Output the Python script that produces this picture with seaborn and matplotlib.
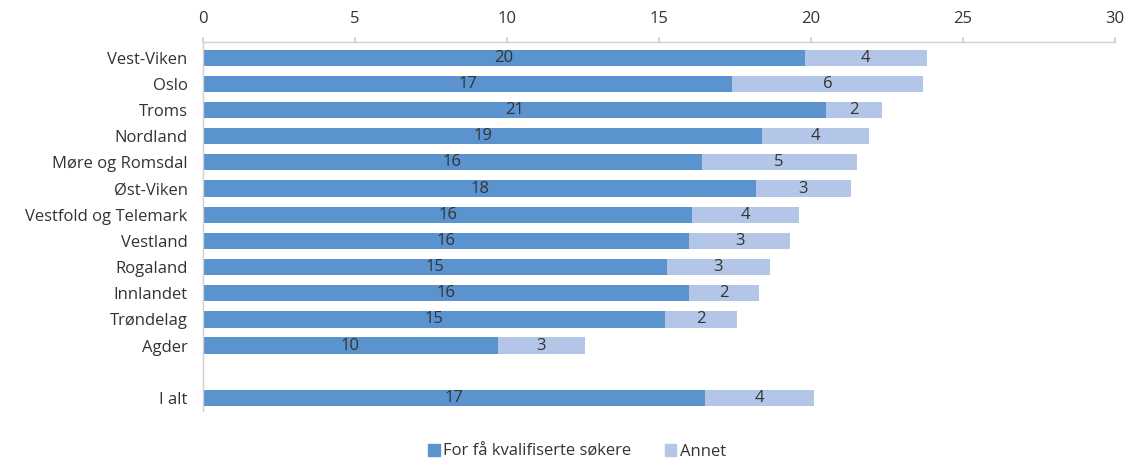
import matplotlib
matplotlib.use("Agg")
import matplotlib.pyplot as plt
import seaborn as sns
import pandas as pd
from matplotlib.patches import Patch

# Data
regions = ["Vest-Viken", "Oslo", "Troms", "Nordland", "Møre og Romsdal", "Øst-Viken",
           "Vestfold og Telemark", "Vestland", "Rogaland", "Innlandet", "Trøndelag",
           "Agder", "I alt"]
qualified = [19.8, 17.4, 20.5, 18.4, 16.4, 18.2, 16.1, 16.0, 15.25, 16.0, 15.2, 9.7, 16.5]
other = [4.0, 6.3, 1.85, 3.5, 5.1, 3.1, 3.5, 3.3, 3.4, 2.3, 2.35, 2.85, 3.6]
qualified_labels = ["20", "17", "21", "19", "16", "18", "16", "16", "15", "16", "15", "10", "17"]
other_labels = ["4", "6", "2", "4", "5", "3", "4", "3", "3", "2", "2", "3", "4"]

# empty slot between Agder and I alt
order = regions[:-1] + [" "] + regions[-1:]

DARK = "#5b93cf"
LIGHT = "#b4c6e7"
TEXT = "#333333"

sns.set_theme(style="white")
plt.rcParams["font.family"] = ["Open Sans", "DejaVu Sans"]

df = pd.DataFrame({"Region": regions, "Qualified": qualified, "Other": other})
df["Total"] = df["Qualified"] + df["Other"]

fig = plt.figure(figsize=(11.25, 4.59), dpi=100)
ax = fig.add_axes([203 / 1125, 1 - 411 / 459, (1115 - 203) / 1125, (411 - 42) / 459])

sns.barplot(data=df, x="Total", y="Region", order=order, color=LIGHT,
            width=0.62, saturation=1, linewidth=0, ax=ax)
sns.barplot(data=df, x="Qualified", y="Region", order=order, color=DARK,
            width=0.62, saturation=1, linewidth=0, ax=ax)

for i, row in df.iterrows():
    y = order.index(row["Region"])
    ax.text(row["Qualified"] / 2, y, qualified_labels[i], ha="center", va="center",
            fontsize=12, color=TEXT)
    ax.text(row["Qualified"] + row["Other"] / 2, y, other_labels[i], ha="center",
            va="center", fontsize=12, color=TEXT)

ax.set_xlim(0, 30)
ax.set_xticks(range(0, 31, 5))
ax.set_ylim(len(order) - 0.5, -0.6)
ax.xaxis.tick_top()
ax.set_xlabel("")
ax.set_ylabel("")

for side in ["right", "bottom"]:
    ax.spines[side].set_visible(False)
for side in ["top", "left"]:
    ax.spines[side].set_color("#d0d0d0")
    ax.spines[side].set_linewidth(1)

ax.tick_params(axis="x", top=True, length=3.5, color="#d0d0d0", labelsize=12,
               labelcolor=TEXT, pad=7)
ax.tick_params(axis="y", left=False, length=0, labelsize=12, labelcolor=TEXT, pad=11)

handles = [Patch(color=DARK, label="For få kvalifiserte søkere"),
           Patch(color=LIGHT, label="Annet")]
fig.legend(handles=handles, loc="lower center", bbox_to_anchor=(0.513, -0.035), ncol=2,
           frameon=False, fontsize=12, handlelength=0.7, handleheight=0.7,
           handletextpad=0.2, columnspacing=2.0, labelcolor=TEXT)

fig.savefig("out.png", dpi=100)
